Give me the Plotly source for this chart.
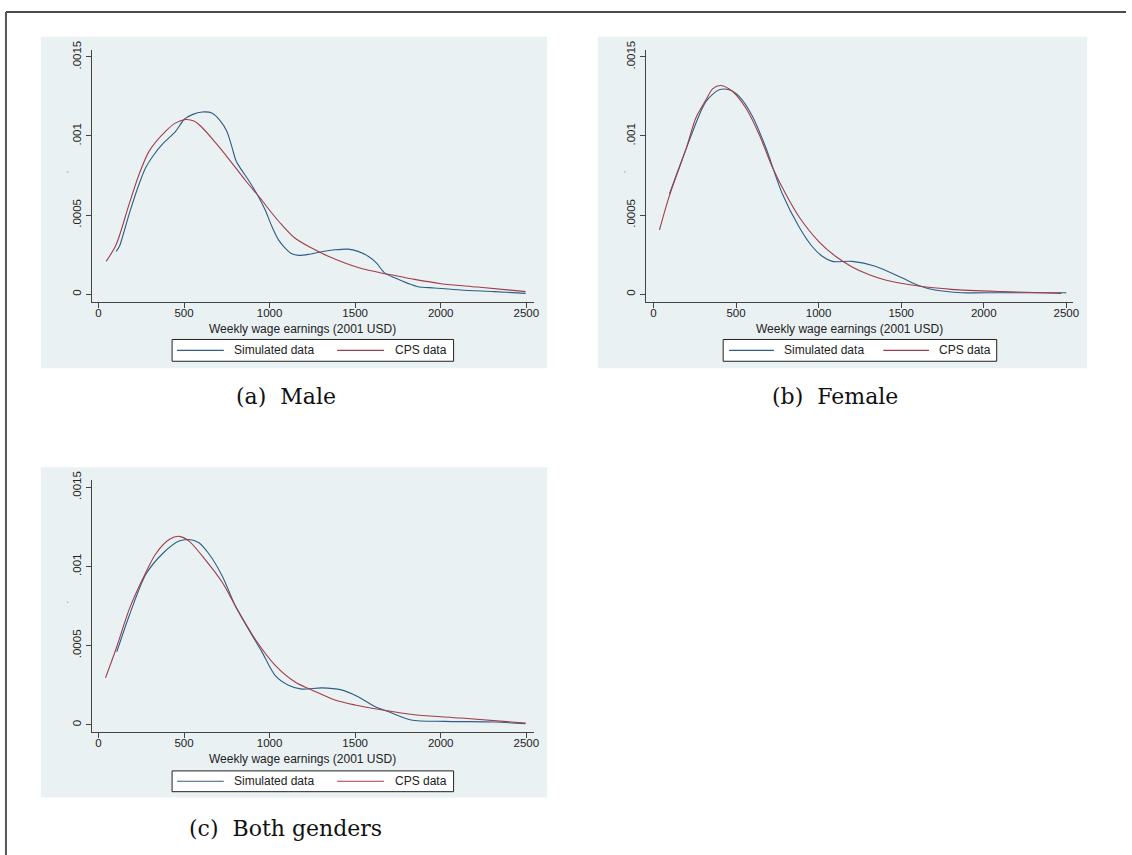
import plotly.graph_objects as go

# ---------------- data ----------------
male_sim_x = [103, 122, 180, 238, 277, 326, 374, 452, 500, 548, 607, 665, 713, 750, 780, 805, 839, 878, 936, 975,
              1014, 1052, 1091, 1130, 1169, 1227, 1304, 1382, 1459, 1517, 1576, 1624, 1672, 1731, 1808, 1866, 1963,
              2118, 2312, 2496]
male_sim_y = [0.000271, 0.000302, 0.000510, 0.000698, 0.000802, 0.000885, 0.000948, 0.001031, 0.001104, 0.001135,
              0.001152, 0.001144, 0.001094, 0.001030, 0.000930, 0.000840, 0.000781, 0.000719, 0.000615, 0.000531,
              0.000427, 0.000344, 0.000292, 0.000256, 0.000246, 0.000252, 0.000269, 0.000281, 0.000285, 0.000271,
              0.000240, 0.000198, 0.000135, 0.000104, 0.000069, 0.000048, 0.000040, 0.000027, 0.000017, 0.000006]
male_cps_x = [45, 103, 180, 238, 297, 393, 452, 510, 558, 607, 684, 762, 859, 955, 1000, 1072, 1149, 1246, 1343,
              1440, 1537, 1653, 1731, 1847, 2002, 2215, 2496]
male_cps_y = [0.000208, 0.000313, 0.000573, 0.000760, 0.000906, 0.001031, 0.001083, 0.001104, 0.001094, 0.001052,
              0.000958, 0.000854, 0.000719, 0.000594, 0.000531, 0.000438, 0.000354, 0.000292, 0.000240, 0.000198,
              0.000163, 0.000135, 0.000119, 0.000094, 0.000067, 0.000046, 0.000017]

female_sim_x = [97, 197, 318, 398, 459, 519, 599, 680, 780, 881, 961, 1022, 1082, 1203, 1343, 1504, 1605, 1705,
                1866, 2108, 2500]
female_sim_y = [0.000635, 0.000917, 0.001219, 0.001292, 0.001292, 0.001250, 0.001125, 0.000927, 0.000635,
                0.000427, 0.000302, 0.000240, 0.000208, 0.000208, 0.000177, 0.000104, 0.000056, 0.000027,
                0.000010, 0.000010, 0.000010]
female_cps_x = [36, 97, 197, 257, 318, 358, 408, 479, 559, 640, 720, 800, 881, 1001, 1102, 1203, 1303, 1404, 1605,
                1806, 2108, 2470]
female_cps_y = [0.000406, 0.000625, 0.000917, 0.001115, 0.001229, 0.001298, 0.001319, 0.001281, 0.001177,
                0.001010, 0.000802, 0.000635, 0.000490, 0.000333, 0.000240, 0.000173, 0.000125, 0.000090,
                0.000052, 0.000031, 0.000017, 0.000006]

both_sim_x = [107, 180, 277, 374, 471, 529, 587, 645, 723, 800, 878, 955, 1033, 1110, 1188, 1304, 1420, 1517, 1614,
              1692, 1827, 2021, 2312, 2496]
both_sim_y = [0.00046, 0.00069, 0.00095, 0.00108, 0.00116, 0.00117, 0.00115, 0.00108, 0.00094, 0.00075, 0.00060,
              0.00046, 0.00031, 0.00025, 0.000225, 0.000233, 0.00022, 0.000177, 0.000115, 0.000083, 0.00003,
              0.000021, 0.000017, 0.000006]
both_cps_x = [41, 103, 180, 258, 335, 413, 471, 529, 626, 723, 800, 916, 1033, 1149, 1266, 1382, 1498, 1653, 1847,
              2118, 2496]
both_cps_y = [0.000296, 0.00048, 0.00073, 0.00092, 0.00108, 0.00117, 0.00119, 0.00116, 0.00104, 0.00090, 0.00075,
              0.00054, 0.000375, 0.00027, 0.00021, 0.000156, 0.000125, 0.000094, 0.0000625, 0.000042, 0.00001]

series_names = ["Simulated data", "CPS data"]
x_ticks = [0, 500, 1000, 1500, 2000, 2500]
y_ticks = [0, 0.0005, 0.001, 0.0015]
y_ticktext = ["0", ".0005", ".001", ".0015"]
x_title = "Weekly wage earnings (2001 USD)"
captions = ["(a)\u00a0 Male", "(b)\u00a0 Female", "(c)\u00a0 Both genders"]

# ---------------- styling ----------------
W, H = 1132, 855
SIM_COLOR = "#2f5d86"
CPS_COLOR = "#a13d48"
REGION_BG = "#e9f1f3"
GRID = "#e6eff1"
AXIS = "#444444"
FONT = "Liberation Sans"
TXT = "#222222"


def px_x(p):
    return p / W


def px_y(p):
    return 1 - p / H


panels = [
    dict(sx=male_sim_x, sy=male_sim_y, cx=male_cps_x, cy=male_cps_y,
         plot=(92, 537, 41, 296), region=(41, 550, 28, 363), xr=[-40.7, 2546], yr=[-0.000048, 0.001546],
         leg=(173, 456, 334, 356), leg_items=((178, 225, 233), (339, 386, 395)),
         title_y=323, cap_y=392, dot=(66, 168)),
    dict(sx=female_sim_x, sy=female_sim_y, cx=female_cps_x, cy=female_cps_y,
         plot=(649, 1079, 41, 296), region=(601, 1093, 28, 363), xr=[-48, 2542], yr=[-0.000048, 0.001546],
         leg=(727, 1002, 334, 356), leg_items=((733, 778, 786), (888, 934, 942)),
         title_y=323, cap_y=392, dot=(626, 168)),
    dict(sx=both_sim_x, sy=both_sim_y, cx=both_cps_x, cy=both_cps_y,
         plot=(92, 537, 476, 731), region=(41, 550, 463, 797), xr=[-40.7, 2546], yr=[-0.000048, 0.001546],
         leg=(173, 456, 770, 791), leg_items=((178, 225, 233), (339, 386, 395)),
         title_y=758, cap_y=828, dot=(66, 603)),
]

fig = go.Figure()
shapes = []
annotations = []
layout_axes = {}
colors = [SIM_COLOR, CPS_COLOR]

for i, p in enumerate(panels):
    n = "" if i == 0 else str(i + 1)
    xa, ya = "x" + n, "y" + n
    for k, (xs, ys) in enumerate([(p["sx"], p["sy"]), (p["cx"], p["cy"])]):
        fig.add_trace(go.Scatter(x=xs, y=ys, mode="lines", name=series_names[k], showlegend=False,
                                 line=dict(color=colors[k], width=1.1, shape="spline", smoothing=0.8),
                                 xaxis=xa, yaxis=ya))
    x0, x1, y0, y1 = p["plot"]
    layout_axes["xaxis" + n] = dict(
        domain=[px_x(x0), px_x(x1)], range=p["xr"], anchor=ya, tickvals=x_ticks,
        showgrid=False, zeroline=False, showline=True, linecolor=AXIS, linewidth=1,
        ticks="outside", ticklen=5, tickcolor=AXIS, tickfont=dict(family=FONT, size=11.5, color=TXT),
        ticklabelstandoff=-5, fixedrange=True)
    layout_axes["yaxis" + n] = dict(
        domain=[px_y(y1), px_y(y0)], range=p["yr"], anchor=xa, tickvals=y_ticks, ticktext=y_ticktext,
        tickangle=-90, showgrid=True, gridcolor=GRID, gridwidth=1, zeroline=False,
        showline=True, linecolor=AXIS, linewidth=1, ticks="outside", ticklen=5, tickcolor=AXIS,
        tickfont=dict(family=FONT, size=11.5, color=TXT), fixedrange=True)
    rx0, rx1, ry0, ry1 = p["region"]
    shapes.append(dict(type="rect", xref="paper", yref="paper", x0=px_x(rx0), x1=px_x(rx1),
                       y0=px_y(ry1), y1=px_y(ry0), fillcolor=REGION_BG, line=dict(width=0), layer="below"))
    # legend box drawn by hand (Stata style)
    lx0, lx1, ly0, ly1 = p["leg"]
    shapes.append(dict(type="rect", xref="paper", yref="paper", x0=px_x(lx0), x1=px_x(lx1),
                       y0=px_y(ly1), y1=px_y(ly0), fillcolor="white", line=dict(color="#222", width=1),
                       layer="above"))
    ymid = (ly0 + ly1) / 2
    for k, (a, b, t) in enumerate(p["leg_items"]):
        shapes.append(dict(type="line", xref="paper", yref="paper", x0=px_x(a), x1=px_x(b),
                           y0=px_y(ymid), y1=px_y(ymid), line=dict(color=colors[k], width=1.1)))
        annotations.append(dict(text=series_names[k], xref="paper", yref="paper", x=px_x(t), y=px_y(ymid),
                                showarrow=False, xanchor="left", yanchor="middle",
                                font=dict(family=FONT, size=12, color=TXT)))
    annotations.append(dict(text=x_title, xref="paper", yref="paper",
                            x=px_x((x0 + x1) / 2 - 10), y=px_y(p["title_y"]), showarrow=False,
                            xanchor="center", yanchor="middle",
                            font=dict(family=FONT, size=12, color=TXT)))
    annotations.append(dict(text=captions[i], xref="paper", yref="paper",
                            x=px_x((rx0 + rx1) / 2 - 8), y=px_y(p["cap_y"]), showarrow=False,
                            xanchor="center", yanchor="middle",
                            font=dict(family="DejaVu Serif", size=22, color="#111")))
    annotations.append(dict(text=".", xref="paper", yref="paper", x=px_x(p["dot"][0]), y=px_y(p["dot"][1]),
                            showarrow=False, xanchor="center", yanchor="bottom", textangle=-90,
                            font=dict(family=FONT, size=8, color="#333")))

# outer frame (top and left edges)
shapes.append(dict(type="line", xref="paper", yref="paper", x0=px_x(6), x1=1, y0=px_y(3), y1=px_y(3),
                   line=dict(color="#111", width=1.5)))
shapes.append(dict(type="line", xref="paper", yref="paper", x0=px_x(6), x1=px_x(6), y0=0, y1=px_y(3),
                   line=dict(color="#555", width=2)))

fig.update_layout(
    width=W, height=H, margin=dict(l=0, r=0, t=0, b=0),
    paper_bgcolor="white", plot_bgcolor="white",
    shapes=shapes, annotations=annotations, showlegend=False,
    **layout_axes,
)

fig.write_html("out.html", config={"displayModeBar": False},
               post_script="document.body.style.margin='0';document.body.style.overflow='hidden';")
